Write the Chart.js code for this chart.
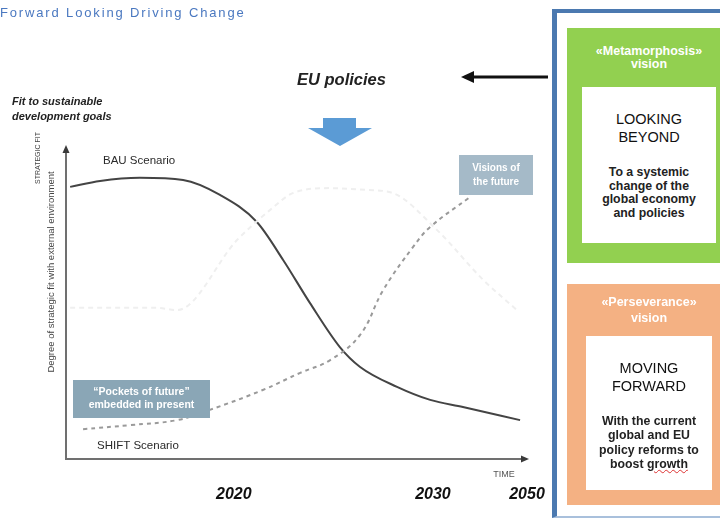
<!DOCTYPE html>
<html lang="en">
<head>
<meta charset="UTF-8">
<title>Fit to sustainable development goals</title>
<script src="https://cdn.jsdelivr.net/npm/chart.js"></script>
<style>
  html, body { margin: 0; padding: 0; background: #fff; overflow: hidden; }
  #wrap { position: relative; width: 720px; height: 518px; overflow: hidden; font-family: 'Liberation Sans', Arial, sans-serif; }
  #chart { position: absolute; left: 0; top: 0; }
  .txt { position: absolute; white-space: nowrap; }
  #panel { position: absolute; left: 552px; top: 9px; width: 200px; height: 503px;
           border-left: 5px solid #4b79b0; border-top: 4px solid #4b79b0; border-bottom: 2px solid #a9c0dc; }
  .vbox { position: absolute; }
  .vhead { position: absolute; left: 0; right: 0; text-align: center; color: #fff; font-weight: bold; font-size: 12.5px; }
  .inner { position: absolute; background: #fff; text-align: center; color: #111; }
  .big { position: absolute; left: 0; right: 0; font-size: 14.5px; line-height: 18px; }
  .body { position: absolute; left: 0; right: 0; font-size: 12.3px; font-weight: bold; color: #222; }
  .squiggle { text-decoration: underline wavy #d33; text-decoration-thickness: 1px; }
</style>
</head>
<body>
<div id="wrap">
  <canvas id="chart" width="720" height="518"></canvas>

  <div class="txt" style="left:0;top:5px;font-size:13px;letter-spacing:1.85px;color:#4a78c0;">Forward Looking Driving Change</div>
  <div class="txt" style="left:12px;top:94px;font-size:11px;line-height:15px;font-weight:bold;font-style:italic;color:#222;">Fit to sustainable<br>development goals</div>
  <div class="txt" style="left:297px;top:70px;font-size:16.5px;font-weight:bold;font-style:italic;color:#222;">EU policies</div>

  <div id="panel"></div>

  <div class="vbox" style="left:567px;top:28px;width:164px;height:235px;background:#92d050;">
    <div class="vhead" style="top:17px;line-height:13px;">«Metamorphosis»<br>vision</div>
    <div class="inner" style="left:15px;top:59px;width:134px;height:156px;">
      <div class="big" style="top:23px;">LOOKING<br>BEYOND</div>
      <div class="body" style="top:79px;line-height:13.5px;">To a systemic<br>change of the<br>global economy<br>and policies</div>
    </div>
  </div>

  <div class="vbox" style="left:567px;top:284px;width:164px;height:221px;background:#f4b183;">
    <div class="vhead" style="top:10px;line-height:16px;">«Perseverance»<br>vision</div>
    <div class="inner" style="left:19px;top:52px;width:126px;height:154px;">
      <div class="big" style="top:23px;">MOVING<br>FORWARD</div>
      <div class="body" style="top:78px;line-height:14.3px;">With the current<br>global and EU<br>policy reforms to<br>boost <span class="squiggle">growth</span></div>
    </div>
  </div>
</div>

<script>
// time axis (0-100 index), year labels and where they sit
const xTickPos = [36.4, 79.6, 100];
const xTickLabels = ['2020', '2030', '2050'];

// BAU scenario (solid)
const bauX = [0.9, 7.4, 16, 25.4, 33.4, 41.4, 47.1, 52.9, 59.4, 63.8, 71.8, 79, 86.1, 98.5];
const bauY = [87.5, 89.4, 90.4, 89.7, 84.9, 76.2, 64, 50.2, 36, 29.6, 23.2, 19, 16.7, 12.5];

// SHIFT scenario (dashed)
const shiftX = [3.7, 13.9, 24.1, 31.2, 42.7, 50.8, 57.3, 63.8, 68.8, 75.3, 79, 87.6];
const shiftY = [9.6, 10.9, 12.5, 15.8, 22.2, 27.7, 31.8, 39.9, 54.3, 68.2, 74.6, 84.2];

// faint background curve
const faintX = [0.9, 19.7, 24.1, 37.1, 44.3, 49.2, 57.3, 65.3, 70.9, 80.5, 90.5, 97.8];
const faintY = [48.6, 48.6, 47.9, 70.4, 80.1, 85.5, 87.1, 86.5, 85.5, 73.6, 57.6, 47.9];

const pts = (xs, ys) => xs.map((x, i) => ({ x: x, y: ys[i] }));

function box(ctx, x, y, w, h, fill, lines, font, lh) {
  ctx.fillStyle = fill;
  ctx.fillRect(x, y, w, h);
  ctx.fillStyle = '#fff';
  ctx.font = font;
  ctx.textAlign = 'center';
  ctx.textBaseline = 'middle';
  const y0 = y + h / 2 - (lines.length - 1) * lh / 2;
  lines.forEach((l, i) => ctx.fillText(l, x + w / 2, y0 + i * lh));
}

const decor = {
  id: 'decor',
  afterDatasetsDraw(chart) {
    const ctx = chart.ctx;
    const a = chart.chartArea;
    ctx.save();

    // axes with arrow heads
    ctx.strokeStyle = '#707070';
    ctx.lineWidth = 2;
    ctx.beginPath();
    ctx.moveTo(a.left, a.top + 2);
    ctx.lineTo(a.left, a.bottom);
    ctx.lineTo(a.right - 4, a.bottom);
    ctx.stroke();
    ctx.fillStyle = '#3a3a3a';
    ctx.beginPath();
    ctx.moveTo(a.left, a.top - 3);
    ctx.lineTo(a.left - 3.5, a.top + 5);
    ctx.lineTo(a.left + 3.5, a.top + 5);
    ctx.fill();
    ctx.beginPath();
    ctx.moveTo(a.right + 2, a.bottom);
    ctx.lineTo(a.right - 6, a.bottom - 3.5);
    ctx.lineTo(a.right - 6, a.bottom + 3.5);
    ctx.fill();

    // axis titles
    ctx.fillStyle = '#444';
    ctx.textAlign = 'center';
    ctx.textBaseline = 'middle';
    ctx.font = '7px "Liberation Sans"';
    ctx.save();
    ctx.translate(38, 158);
    ctx.rotate(-Math.PI / 2);
    ctx.fillText('STRATEGIC FIT', 0, 0);
    ctx.restore();
    ctx.font = '9.5px "Liberation Sans"';
    ctx.save();
    ctx.translate(51, 272);
    ctx.rotate(-Math.PI / 2);
    ctx.fillText('Degree of strategic fit with external environment', 0, 0);
    ctx.restore();

    ctx.font = '9px "Liberation Sans"';
    ctx.fillStyle = '#555';
    ctx.fillText('TIME', 504, 475);

    // scenario labels
    ctx.fillStyle = '#2a2a2a';
    ctx.font = '11.5px "Liberation Sans"';
    ctx.textAlign = 'left';
    ctx.fillText('BAU Scenario', 103, 161);
    ctx.fillText('SHIFT Scenario', 97, 446);

    // annotation boxes
    box(ctx, 73, 380, 137, 38, '#8aa6b6', ['\u201cPockets of future\u201d', 'embedded in present'], 'bold 10.5px "Liberation Sans"', 13);
    box(ctx, 459, 155, 74, 40, '#a5bac8', ['Visions of', 'the future'], 'bold 10px "Liberation Sans"', 14);

    // black arrow from panel towards "EU policies"
    ctx.strokeStyle = '#111';
    ctx.lineWidth = 3;
    ctx.beginPath();
    ctx.moveTo(548, 77);
    ctx.lineTo(472, 77);
    ctx.stroke();
    ctx.fillStyle = '#111';
    ctx.beginPath();
    ctx.moveTo(461, 77);
    ctx.lineTo(474, 71);
    ctx.lineTo(474, 83);
    ctx.fill();

    // blue block arrow pointing down
    ctx.fillStyle = '#5b9bd5';
    ctx.beginPath();
    ctx.moveTo(323, 118);
    ctx.lineTo(356, 118);
    ctx.lineTo(356, 128);
    ctx.lineTo(372, 128);
    ctx.lineTo(340, 146);
    ctx.lineTo(308, 128);
    ctx.lineTo(323, 128);
    ctx.closePath();
    ctx.fill();

    ctx.restore();
  }
};

Chart.defaults.font.family = '"Liberation Sans", Arial, sans-serif';

new Chart(document.getElementById('chart'), {
  type: 'line',
  data: {
    datasets: [
      {
        label: 'Background',
        data: pts(faintX, faintY),
        borderColor: '#efefef',
        borderWidth: 2,
        borderDash: [5, 4],
        pointRadius: 0,
        cubicInterpolationMode: 'monotone'
      },
      {
        label: 'SHIFT Scenario',
        data: pts(shiftX, shiftY),
        borderColor: '#9a9a9a',
        borderWidth: 2,
        borderDash: [4, 4],
        pointRadius: 0,
        tension: 0.4
      },
      {
        label: 'BAU Scenario',
        data: pts(bauX, bauY),
        borderColor: '#444',
        borderWidth: 2,
        pointRadius: 0,
        cubicInterpolationMode: 'monotone'
      }
    ]
  },
  options: {
    responsive: false,
    animation: false,
    devicePixelRatio: 1,
    layout: { padding: { left: 66, top: 148, right: 193, bottom: 14 } },
    plugins: { legend: { display: false }, tooltip: { enabled: false } },
    scales: {
      x: {
        type: 'linear',
        min: 0,
        max: 100,
        afterBuildTicks: (scale) => { scale.ticks = xTickPos.map(v => ({ value: v })); },
        afterFit: (scale) => { scale.height = 45; },
        grid: { display: false, drawTicks: false },
        border: { display: false },
        ticks: {
          autoSkip: false,
          maxRotation: 0,
          padding: 26,
          color: '#111',
          font: { size: 16, weight: 'bold', style: 'italic' },
          callback: (v, i) => xTickLabels[i]
        }
      },
      y: { display: false, min: 0, max: 100 }
    }
  },
  plugins: [decor]
});
</script>
</body>
</html>
